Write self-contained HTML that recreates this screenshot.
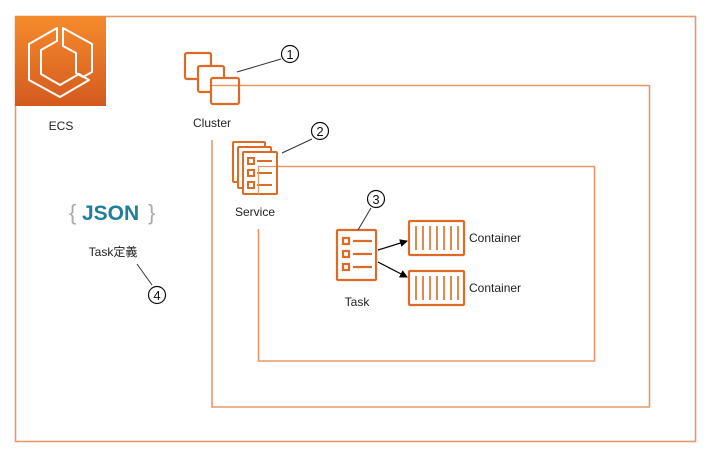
<!DOCTYPE html>
<html><head><meta charset="utf-8"><style>
html,body{margin:0;padding:0;background:#fff;}
svg{display:block;}
text{font-family:"Liberation Sans","Noto Sans CJK JP",sans-serif;}
</style></head><body>
<svg width="710" height="452" viewBox="0 0 710 452" xmlns="http://www.w3.org/2000/svg">
<defs>
<linearGradient id="g" x1="0" y1="0" x2="0" y2="1"><stop offset="0" stop-color="#f68b2c"/><stop offset="1" stop-color="#d35a1f"/></linearGradient>
<marker id="ar" markerWidth="8" markerHeight="8" refX="7" refY="4" orient="auto" markerUnits="userSpaceOnUse"><path d="M0,0 L8,4 L0,8 Z" fill="#000"/></marker>
</defs>
<g fill="none" stroke="#e8976a" stroke-width="1.6">
<rect x="15.5" y="16.5" width="680" height="425"/>
<path d="M211,85.5 H649.5 V407 H212 V140"/>
<path d="M258,166.5 H594.5 V361 H258.5 V229"/>
</g>
<rect x="15" y="16" width="91" height="90" fill="url(#g)"/>
<g fill="none" stroke="#fff" stroke-width="2" stroke-linejoin="round">
<path d="M57,28 L29,44 V80 L60,97 L89,80 L79,74 L60,85 L41,74 V50 L57,41 Z"/>
<path d="M63,28 L92,44 V72 L83,77 L76,73 V53 L63,46 Z"/>
</g>
<text x="61" y="130" font-size="12" text-anchor="middle" fill="#222">ECS</text>
<g fill="#fff" stroke="#dd6b26" stroke-width="2.2">
<rect x="185" y="53" width="26" height="26" rx="2"/>
<rect x="198" y="66" width="26" height="26" rx="2"/>
<rect x="211" y="78" width="28" height="26" rx="2"/>
</g>
<line x1="212" y1="85.5" x2="238" y2="85.5" stroke="#e8976a" stroke-width="1.4"/>
<text x="212" y="127" font-size="12" text-anchor="middle" fill="#222">Cluster</text>
<g fill="#fff" stroke="#dd6b26" stroke-width="2">
<rect x="233" y="142" width="32" height="40" rx="1"/>
<rect x="238" y="147" width="33" height="41" rx="1"/>
<rect x="243" y="152" width="34" height="42" rx="1"/>
<rect x="248" y="158" width="6" height="6"/><line x1="257" y1="161" x2="272" y2="161"/>
<rect x="248" y="170" width="6" height="6"/><line x1="257" y1="173" x2="272" y2="173"/>
<rect x="248" y="182" width="6" height="6"/><line x1="257" y1="185" x2="272" y2="185"/>
</g>
<path d="M258,166.5 H276 M258.5,166 V194" stroke="#e8976a" stroke-width="1.2" fill="none"/>
<text x="255" y="216" font-size="12" text-anchor="middle" fill="#222">Service</text>
<g fill="#fff" stroke="#dd6b26" stroke-width="2.2">
<rect x="337" y="230" width="39" height="50" rx="1"/>
<rect x="343" y="238" width="6" height="6"/><line x1="353" y1="241" x2="372" y2="241"/>
<rect x="343" y="251" width="6" height="6"/><line x1="353" y1="254" x2="372" y2="254"/>
<rect x="343" y="264" width="6" height="6"/><line x1="353" y1="267" x2="372" y2="267"/>
</g>
<text x="357" y="306" font-size="12" text-anchor="middle" fill="#222">Task</text>
<g fill="#fff" stroke="#dd6b26" stroke-width="2.2">
<rect x="409" y="221" width="55" height="34" rx="1"/>
<rect x="409" y="271" width="55" height="34" rx="1"/>
</g>
<g stroke="#dd6b26" stroke-width="1.6">
<path d="M416,226 V250 M423,226 V250 M430,226 V250 M437,226 V250 M444,226 V250 M451,226 V250 M458,226 V250"/>
<path d="M416,276 V300 M423,276 V300 M430,276 V300 M437,276 V300 M444,276 V300 M451,276 V300 M458,276 V300"/>
</g>
<text x="469" y="242" font-size="12" fill="#222">Container</text>
<text x="469" y="292" font-size="12" fill="#222">Container</text>
<g stroke="#000" stroke-width="1.2">
<line x1="378" y1="250" x2="407" y2="241" marker-end="url(#ar)"/>
<line x1="378" y1="262" x2="407" y2="277" marker-end="url(#ar)"/>
</g>
<g stroke="#333" stroke-width="1">
<line x1="237" y1="72" x2="281" y2="59"/>
<line x1="282" y1="153" x2="312" y2="139"/>
<line x1="358" y1="230" x2="371" y2="208"/>
<line x1="137" y1="264" x2="152" y2="285"/>
</g>
<g fill="#fff" stroke="#111" stroke-width="1.2">
<circle cx="290" cy="54" r="8.5"/>
<circle cx="320" cy="131" r="8.5"/>
<circle cx="376" cy="199" r="8.5"/>
<circle cx="157" cy="295" r="8.5"/>
</g>
<g font-size="13" fill="#111" text-anchor="middle">
<text x="290" y="59">1</text>
<text x="320" y="136">2</text>
<text x="376" y="204">3</text>
<text x="157" y="300">4</text>
</g>
<text x="69" y="220" font-size="22" fill="#aaa">{</text>
<text x="82" y="220" font-size="21" font-weight="bold" fill="#1f7f9a">JSON</text>
<text x="148" y="220" font-size="22" fill="#aaa">}</text>
<text x="113" y="256" font-size="12" text-anchor="middle" fill="#222">Task定義</text>
</svg>
</body></html>
